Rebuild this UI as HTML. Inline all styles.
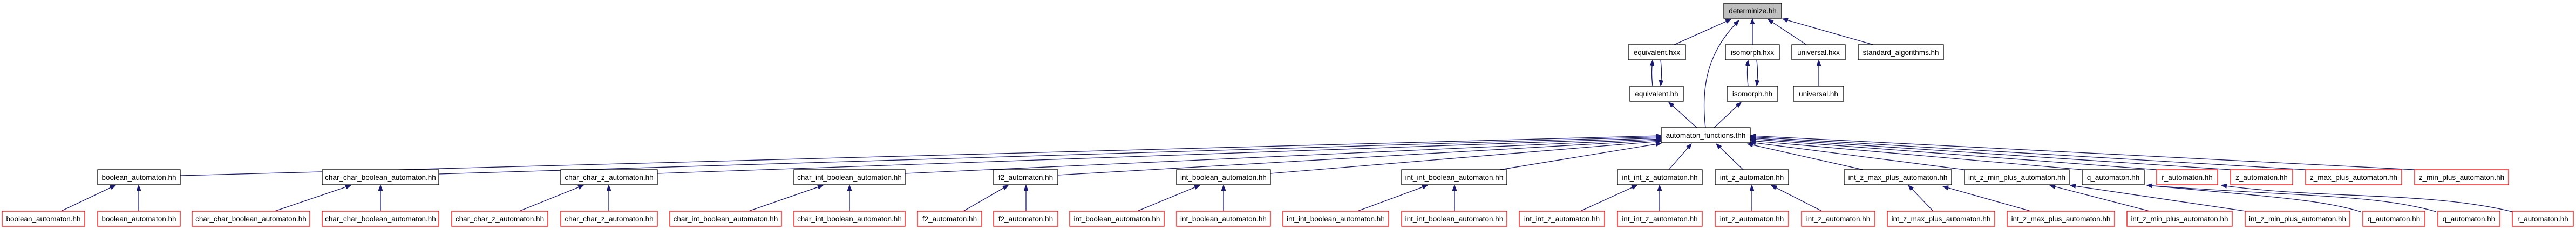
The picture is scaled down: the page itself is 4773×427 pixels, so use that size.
<!DOCTYPE html>
<html><head><meta charset="utf-8"><style>
html,body{margin:0;padding:0;background:#fff}
svg{display:block}
text{font-family:"Liberation Sans",Arial,sans-serif;font-size:13.5px;text-anchor:middle;fill:#000}
.b{fill:#fff;stroke:#000;stroke-width:1.3}
.r{fill:#fff;stroke:#ff0000;stroke-width:1.3}
.g{fill:#bfbfbf;stroke:#000;stroke-width:1.3}
path.e{fill:none;stroke:#191970;stroke-width:1.3;marker-end:url(#a)}
</style></head><body>
<svg width="4773" height="427" viewBox="0 0 4773 427" xmlns="http://www.w3.org/2000/svg">
<defs><marker id="a" markerUnits="userSpaceOnUse" markerWidth="11" markerHeight="8" refX="10" refY="4" orient="auto"><path d="M0,0 L10,4 L0,8 z" fill="#191970" stroke="#191970"/></marker></defs>

<!-- edges to determinize -->
<path class="e" d="M3102,83 L3207,36"/>
<path class="e" d="M3160,237 C3150,150 3170,90 3222,38"/>
<path class="e" d="M3247,83 L3247,35"/>
<path class="e" d="M3347,83 L3276,36"/>
<path class="e" d="M3471,83 L3303,35"/>
<!-- equivalent / isomorph pairs -->
<path class="e" d="M3062,160 C3060,140 3060,130 3062,112"/>
<path class="e" d="M3077,112 C3079,130 3079,140 3077,159"/>
<path class="e" d="M3239,160 C3237,140 3237,130 3239,112"/>
<path class="e" d="M3255,112 C3257,130 3257,140 3255,159"/>
<path class="e" d="M3370,160 L3370,112"/>
<path class="e" d="M3144,237 L3092,190"/>
<path class="e" d="M3176,237 L3226,190"/>
<!-- row5 to automaton_functions -->
<path class="e" d="M334,326 L3078,252"/>
<path class="e" d="M813,323 L3078,254"/>
<path class="e" d="M1218,322 L3078,256"/>
<path class="e" d="M1677,322 L3078,258"/>
<path class="e" d="M1960,325 L3078,260"/>
<path class="e" d="M2354,322 L3078,262"/>
<path class="e" d="M2779,315 L3078,266"/>
<path class="e" d="M3092,315 L3134,267"/>
<path class="e" d="M3230,315 L3180,267"/>
<path class="e" d="M3452,315 L3238,267"/>
<path class="e" d="M3640,315 L3243,264"/>
<path class="e" d="M3858,315 L3243,261"/>
<path class="e" d="M3996,315 L3243,258"/>
<path class="e" d="M4133,315 L3243,256"/>
<path class="e" d="M4272,315 L3243,254"/>
<path class="e" d="M4474,315 L3243,252"/>
<!-- row6 to row5 -->
<path class="e" d="M113,392 L214,344"/>
<path class="e" d="M257,392 L257,344"/>
<path class="e" d="M509,392 L650,344"/>
<path class="e" d="M705,392 L705,344"/>
<path class="e" d="M962,392 L1081,344"/>
<path class="e" d="M1128,392 L1128,344"/>
<path class="e" d="M1387,392 L1525,344"/>
<path class="e" d="M1574,392 L1574,344"/>
<path class="e" d="M1785,392 L1868,344"/>
<path class="e" d="M1901,392 L1901,344"/>
<path class="e" d="M2107,392 L2223,344"/>
<path class="e" d="M2267,392 L2267,344"/>
<path class="e" d="M2515,392 L2645,344"/>
<path class="e" d="M2695,392 L2695,344"/>
<path class="e" d="M2928,392 L3033,344"/>
<path class="e" d="M3075,392 L3075,344"/>
<path class="e" d="M3246,392 L3246,344"/>
<path class="e" d="M3376,392 L3282,344"/>
<path class="e" d="M3582,392 L3536,344"/>
<path class="e" d="M3763,392 L3600,346"/>
<path class="e" d="M3983,392 L3798,344"/>
<path class="e" d="M4161,392 L3836,344"/>
<path class="e" d="M4374,393 C4300,370 4200,365 3978,344"/>
<path class="e" d="M4514,393 C4400,360 4250,365 3978,344"/>
<path class="e" d="M4655,393 C4500,355 4300,370 4116,344"/>

<!-- nodes row1 -->
<rect class="g" x="3194" y="6" width="107" height="28"/><text x="3247.5" y="25">determinize.hh</text>
<!-- row2 -->
<rect class="b" x="3017" y="83" width="106" height="28"/><text x="3070" y="102">equivalent.hxx</text>
<rect class="b" x="3197" y="83" width="100" height="28"/><text x="3247" y="102">isomorph.hxx</text>
<rect class="b" x="3320" y="83" width="99" height="28"/><text x="3369.5" y="102">universal.hxx</text>
<rect class="b" x="3443" y="83" width="158" height="28"/><text x="3522" y="102">standard_algorithms.hh</text>
<!-- row3 -->
<rect class="b" x="3020" y="160" width="99" height="28"/><text x="3069.5" y="179">equivalent.hh</text>
<rect class="b" x="3200" y="160" width="94" height="28"/><text x="3247" y="179">isomorph.hh</text>
<rect class="b" x="3323" y="160" width="93" height="28"/><text x="3369.5" y="179">universal.hh</text>
<!-- row4 -->
<rect class="b" x="3078" y="237" width="165" height="28"/><text x="3160.5" y="256">automaton_functions.thh</text>
<!-- row5 -->
<rect class="b" x="181" y="315" width="153" height="28"/><text x="257.5" y="334">boolean_automaton.hh</text>
<rect class="b" x="597" y="315" width="216" height="28"/><text x="705" y="334">char_char_boolean_automaton.hh</text>
<rect class="b" x="1039" y="315" width="179" height="28"/><text x="1128.5" y="334">char_char_z_automaton.hh</text>
<rect class="b" x="1471" y="315" width="206" height="28"/><text x="1574" y="334">char_int_boolean_automaton.hh</text>
<rect class="b" x="1841" y="315" width="119" height="28"/><text x="1900.5" y="334">f2_automaton.hh</text>
<rect class="b" x="2180" y="315" width="174" height="28"/><text x="2267" y="334">int_boolean_automaton.hh</text>
<rect class="b" x="2597" y="315" width="195" height="28"/><text x="2694.5" y="334">int_int_boolean_automaton.hh</text>
<rect class="b" x="2997" y="315" width="157" height="28"/><text x="3075.5" y="334">int_int_z_automaton.hh</text>
<rect class="b" x="3178" y="315" width="136" height="28"/><text x="3246" y="334">int_z_automaton.hh</text>
<rect class="b" x="3417" y="315" width="199" height="28"/><text x="3516.5" y="334">int_z_max_plus_automaton.hh</text>
<rect class="b" x="3640" y="315" width="194" height="28"/><text x="3737" y="334">int_z_min_plus_automaton.hh</text>
<rect class="b" x="3858" y="315" width="115" height="28"/><text x="3915.5" y="334">q_automaton.hh</text>
<rect class="r" x="3996" y="315" width="113" height="28"/><text x="4052.5" y="334">r_automaton.hh</text>
<rect class="r" x="4133" y="315" width="115" height="28"/><text x="4190.5" y="334">z_automaton.hh</text>
<rect class="r" x="4272" y="315" width="178" height="28"/><text x="4361" y="334">z_max_plus_automaton.hh</text>
<rect class="r" x="4474" y="315" width="174" height="28"/><text x="4561" y="334">z_min_plus_automaton.hh</text>
<!-- row6 -->
<rect class="r" x="4" y="392" width="153" height="28"/><text x="80.5" y="411">boolean_automaton.hh</text>
<rect class="r" x="181" y="392" width="153" height="28"/><text x="257.5" y="411">boolean_automaton.hh</text>
<rect class="r" x="356" y="392" width="218" height="28"/><text x="465" y="411">char_char_boolean_automaton.hh</text>
<rect class="r" x="597" y="392" width="216" height="28"/><text x="705" y="411">char_char_boolean_automaton.hh</text>
<rect class="r" x="837" y="392" width="178" height="28"/><text x="926" y="411">char_char_z_automaton.hh</text>
<rect class="r" x="1039" y="392" width="179" height="28"/><text x="1128.5" y="411">char_char_z_automaton.hh</text>
<rect class="r" x="1241" y="392" width="207" height="28"/><text x="1344.5" y="411">char_int_boolean_automaton.hh</text>
<rect class="r" x="1471" y="392" width="206" height="28"/><text x="1574" y="411">char_int_boolean_automaton.hh</text>
<rect class="r" x="1700" y="392" width="119" height="28"/><text x="1759.5" y="411">f2_automaton.hh</text>
<rect class="r" x="1841" y="392" width="119" height="28"/><text x="1900.5" y="411">f2_automaton.hh</text>
<rect class="r" x="1982" y="392" width="175" height="28"/><text x="2069.5" y="411">int_boolean_automaton.hh</text>
<rect class="r" x="2180" y="392" width="174" height="28"/><text x="2267" y="411">int_boolean_automaton.hh</text>
<rect class="r" x="2377" y="392" width="196" height="28"/><text x="2475" y="411">int_int_boolean_automaton.hh</text>
<rect class="r" x="2597" y="392" width="195" height="28"/><text x="2694.5" y="411">int_int_boolean_automaton.hh</text>
<rect class="r" x="2815" y="392" width="158" height="28"/><text x="2894" y="411">int_int_z_automaton.hh</text>
<rect class="r" x="2997" y="392" width="157" height="28"/><text x="3075.5" y="411">int_int_z_automaton.hh</text>
<rect class="r" x="3178" y="392" width="136" height="28"/><text x="3246" y="411">int_z_automaton.hh</text>
<rect class="r" x="3338" y="392" width="136" height="28"/><text x="3406" y="411">int_z_automaton.hh</text>
<rect class="r" x="3497" y="392" width="199" height="28"/><text x="3596.5" y="411">int_z_max_plus_automaton.hh</text>
<rect class="r" x="3719" y="392" width="199" height="28"/><text x="3818.5" y="411">int_z_max_plus_automaton.hh</text>
<rect class="r" x="3941" y="392" width="195" height="28"/><text x="4038.5" y="411">int_z_min_plus_automaton.hh</text>
<rect class="r" x="4160" y="392" width="194" height="28"/><text x="4257" y="411">int_z_min_plus_automaton.hh</text>
<rect class="r" x="4378" y="392" width="115" height="28"/><text x="4435.5" y="411">q_automaton.hh</text>
<rect class="r" x="4517" y="392" width="115" height="28"/><text x="4574.5" y="411">q_automaton.hh</text>
<rect class="r" x="4655" y="392" width="113" height="28"/><text x="4711.5" y="411">r_automaton.hh</text>
</svg>
</body></html>
